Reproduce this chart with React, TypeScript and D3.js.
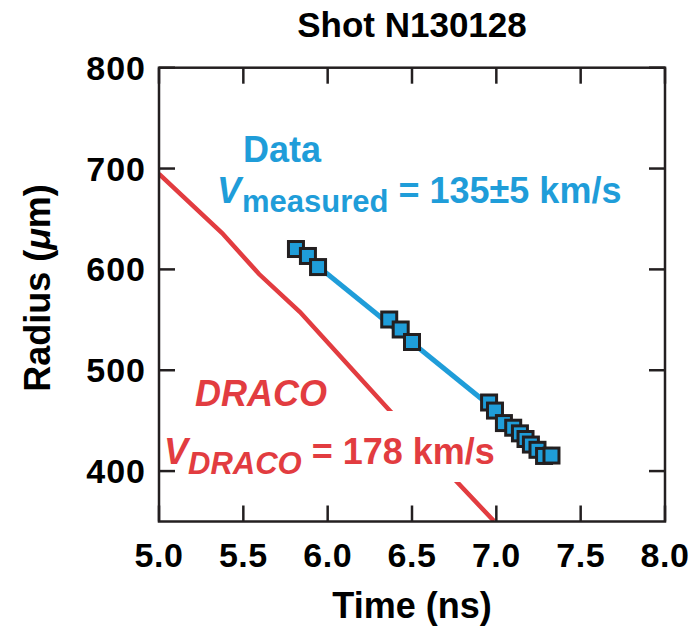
import React from "react";
import * as d3 from "d3";

const timeNs = [5.812, 5.883, 5.943, 6.365, 6.433, 6.5, 6.957, 6.992, 7.045, 7.1, 7.14, 7.173, 7.205, 7.244, 7.283, 7.327];
const radiusUm = [620.2, 613.3, 602.3, 550.3, 540.4, 528, 468, 460, 447.6, 443, 437.4, 431.8, 426.3, 421.1, 415, 415.4];

const fitTime = [5.81, 6.99];
const fitRadius = [621, 461];

const dracoTime = [5.0, 5.374, 5.593, 5.836, 6.37, 6.986];
const dracoRadius = [694.6, 636, 595.4, 557.7, 459.5, 350.4];

const xTicks = [5.0, 5.5, 6.0, 6.5, 7.0, 7.5, 8.0];
const yTicks = [400, 500, 600, 700, 800];

const title = "Shot N130128";

const W = 696;
const H = 629;
const M = { left: 159, right: 665, top: 67.7, bottom: 521.5 };
const FONT = "'Liberation Sans', Arial, Helvetica, sans-serif";
const BLUE = "#1f9dd9";
const RED = "#e23c40";
const DARK = "#231f20";

export default function App() {
  const x = d3.scaleLinear().domain([5, 8]).range([M.left, M.right]);
  const y = d3.scaleLinear().domain([350, 800]).range([M.bottom, M.top]);
  const line = d3
    .line<[number, number]>()
    .x((d) => x(d[0]))
    .y((d) => y(d[1]));
  const dracoPts: [number, number][] = dracoTime.map((t, i) => [t, dracoRadius[i]]);
  const fitPts: [number, number][] = fitTime.map((t, i) => [t, fitRadius[i]]);
  const tickLen = 16;
  const sq = 15;

  return (
    <svg
      width={W}
      height={H}
      style={{ position: "absolute", left: 0, top: 0, background: "#fff" }}
      fontFamily={FONT}
      fontWeight="bold"
    >
      <defs>
        <clipPath id="plotclip">
          <rect x={M.left} y={M.top} width={M.right - M.left} height={M.bottom - M.top} />
        </clipPath>
      </defs>
      <rect x={0} y={0} width={W} height={H} fill="#fff" />
      <text x={(M.left + M.right) / 2} y={37} textAnchor="middle" fontSize={35} fill="#000">
        {title}
      </text>

      <g clipPath="url(#plotclip)">
        <path d={line(dracoPts) || ""} fill="none" stroke={RED} strokeWidth={4.5} />
        <rect x={360} y={411} width={110} height={71} fill="#fff" />
        <path d={line(fitPts) || ""} fill="none" stroke={BLUE} strokeWidth={5} />
        {timeNs.map((t, i) => (
          <rect
            key={i}
            x={x(t) - sq / 2}
            y={y(radiusUm[i]) - sq / 2}
            width={sq}
            height={sq}
            fill={BLUE}
            stroke={DARK}
            strokeWidth={3}
          />
        ))}
      </g>

      {/* ticks */}
      {xTicks.map((t) => (
        <g key={"xt" + t}>
          <line x1={x(t)} x2={x(t)} y1={M.bottom} y2={M.bottom - tickLen} stroke={DARK} strokeWidth={2.5} />
          <line x1={x(t)} x2={x(t)} y1={M.top} y2={M.top + tickLen} stroke={DARK} strokeWidth={2.5} />
          <text x={x(t)} y={567} textAnchor="middle" fontSize={34} fill="#000" letterSpacing={0.5}>
            {t.toFixed(1)}
          </text>
        </g>
      ))}
      {yTicks.map((v) => (
        <g key={"yt" + v}>
          <line x1={M.left} x2={M.left + tickLen} y1={y(v)} y2={y(v)} stroke={DARK} strokeWidth={2.5} />
          <line x1={M.right} x2={M.right - tickLen} y1={y(v)} y2={y(v)} stroke={DARK} strokeWidth={2.5} />
          <text x={146} y={y(v) + 12} textAnchor="end" fontSize={34} fill="#000" letterSpacing={1}>
            {v}
          </text>
        </g>
      ))}
      <rect
        x={M.left}
        y={M.top}
        width={M.right - M.left}
        height={M.bottom - M.top}
        fill="none"
        stroke={DARK}
        strokeWidth={2.5}
      />

      {/* axis titles */}
      <text x={(M.left + M.right) / 2} y={618} textAnchor="middle" fontSize={36} fill="#000">
        Time (ns)
      </text>
      <text transform="translate(50,288) rotate(-90)" textAnchor="middle" fontSize={36} fill="#000">
        Radius (<tspan fontStyle="italic">μ</tspan>m)
      </text>

      {/* annotations */}
      <text x={243} y={162} fontSize={36} fill={BLUE}>
        Data
      </text>
      <text x={217} y={203} fontSize={36} fill={BLUE}>
        <tspan fontStyle="italic">V</tspan>
        <tspan fontSize={31} dy={9} dx={1}>measured</tspan>
        <tspan dy={-9}> = 135±5 km/s</tspan>
      </text>
      <text x={195} y={406} fontSize={36} fill={RED} fontStyle="italic">
        DRACO
      </text>
      <text x={164} y={464} fontSize={36} fill={RED}>
        <tspan fontStyle="italic">V</tspan>
        <tspan fontSize={31} fontStyle="italic" dy={10} dx={0}>DRACO</tspan>
        <tspan dy={-10}> = 178 km/s</tspan>
      </text>
    </svg>
  );
}
